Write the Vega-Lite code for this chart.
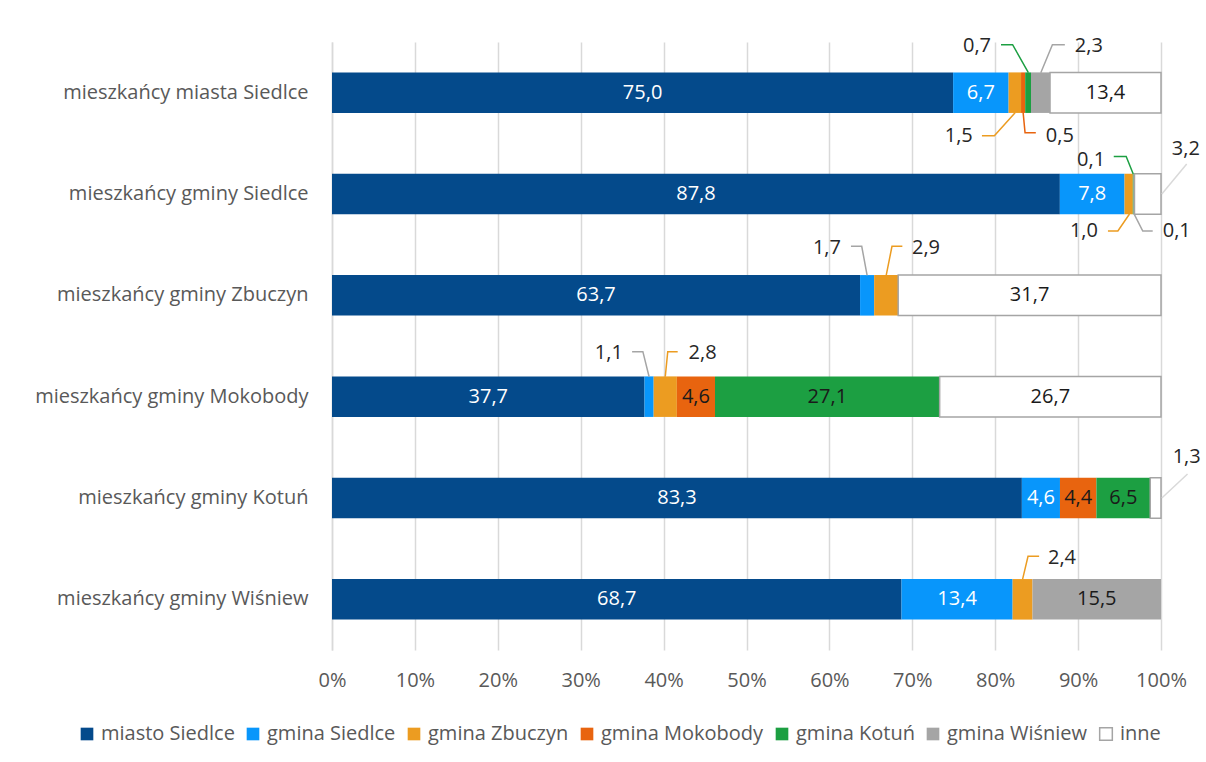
{
  "$schema": "https://vega.github.io/schema/vega-lite/v6.json",
  "width": 829,
  "height": 608,
  "autosize": "none",
  "padding": {"left": 332, "top": 42, "right": 45, "bottom": 112},
  "background": "white",
  "config": {
    "locale": {"number": {"decimal": ",", "thousands": " ", "grouping": [3], "currency": ["", " zł"]}},
    "font": "Open Sans",
    "view": {"stroke": null},
    "axis": {"labelFont": "Open Sans", "labelFontSize": 20, "labelColor": "#595959", "ticks": false, "title": null, "labelLimit": 500}
  },
  "datasets": {
    "bars": [
      {"cat": "mieszkańcy miasta Siedlce", "series": "miasto Siedlce", "value": 75.0},
      {"cat": "mieszkańcy miasta Siedlce", "series": "gmina Siedlce", "value": 6.7},
      {"cat": "mieszkańcy miasta Siedlce", "series": "gmina Zbuczyn", "value": 1.5},
      {"cat": "mieszkańcy miasta Siedlce", "series": "gmina Mokobody", "value": 0.5},
      {"cat": "mieszkańcy miasta Siedlce", "series": "gmina Kotuń", "value": 0.7},
      {"cat": "mieszkańcy miasta Siedlce", "series": "gmina Wiśniew", "value": 2.3},
      {"cat": "mieszkańcy miasta Siedlce", "series": "inne", "value": 13.4},
      {"cat": "mieszkańcy gminy Siedlce", "series": "miasto Siedlce", "value": 87.8},
      {"cat": "mieszkańcy gminy Siedlce", "series": "gmina Siedlce", "value": 7.8},
      {"cat": "mieszkańcy gminy Siedlce", "series": "gmina Zbuczyn", "value": 1.0},
      {"cat": "mieszkańcy gminy Siedlce", "series": "gmina Kotuń", "value": 0.1},
      {"cat": "mieszkańcy gminy Siedlce", "series": "gmina Wiśniew", "value": 0.1},
      {"cat": "mieszkańcy gminy Siedlce", "series": "inne", "value": 3.2},
      {"cat": "mieszkańcy gminy Zbuczyn", "series": "miasto Siedlce", "value": 63.7},
      {"cat": "mieszkańcy gminy Zbuczyn", "series": "gmina Siedlce", "value": 1.7},
      {"cat": "mieszkańcy gminy Zbuczyn", "series": "gmina Zbuczyn", "value": 2.9},
      {"cat": "mieszkańcy gminy Zbuczyn", "series": "inne", "value": 31.7},
      {"cat": "mieszkańcy gminy Mokobody", "series": "miasto Siedlce", "value": 37.7},
      {"cat": "mieszkańcy gminy Mokobody", "series": "gmina Siedlce", "value": 1.1},
      {"cat": "mieszkańcy gminy Mokobody", "series": "gmina Zbuczyn", "value": 2.8},
      {"cat": "mieszkańcy gminy Mokobody", "series": "gmina Mokobody", "value": 4.6},
      {"cat": "mieszkańcy gminy Mokobody", "series": "gmina Kotuń", "value": 27.1},
      {"cat": "mieszkańcy gminy Mokobody", "series": "inne", "value": 26.7},
      {"cat": "mieszkańcy gminy Kotuń", "series": "miasto Siedlce", "value": 83.3},
      {"cat": "mieszkańcy gminy Kotuń", "series": "gmina Siedlce", "value": 4.6},
      {"cat": "mieszkańcy gminy Kotuń", "series": "gmina Mokobody", "value": 4.4},
      {"cat": "mieszkańcy gminy Kotuń", "series": "gmina Kotuń", "value": 6.5},
      {"cat": "mieszkańcy gminy Kotuń", "series": "inne", "value": 1.3},
      {"cat": "mieszkańcy gminy Wiśniew", "series": "miasto Siedlce", "value": 68.7},
      {"cat": "mieszkańcy gminy Wiśniew", "series": "gmina Siedlce", "value": 13.4},
      {"cat": "mieszkańcy gminy Wiśniew", "series": "gmina Zbuczyn", "value": 2.4},
      {"cat": "mieszkańcy gminy Wiśniew", "series": "gmina Wiśniew", "value": 15.5}
    ],
    "callouts": [
      {"id": "a1", "series": "gmina Kotuń", "value": 0.7, "tx": 0.778, "ty": -0.464},
      {"id": "a2", "series": "gmina Wiśniew", "value": 2.3, "tx": 0.913, "ty": -0.464},
      {"id": "a3", "series": "gmina Zbuczyn", "value": 1.5, "tx": 0.756, "ty": 0.424},
      {"id": "a4", "series": "gmina Mokobody", "value": 0.5, "tx": 0.878, "ty": 0.424},
      {"id": "b1", "series": "gmina Kotuń", "value": 0.1, "tx": 0.9156, "ty": 0.664},
      {"id": "b2", "series": "inne", "value": 3.2, "tx": 1.030, "ty": 0.556},
      {"id": "b3", "series": "gmina Zbuczyn", "value": 1.0, "tx": 0.907, "ty": 1.365},
      {"id": "b4", "series": "gmina Wiśniew", "value": 0.1, "tx": 1.019, "ty": 1.365},
      {"id": "c1", "series": "gmina Siedlce", "value": 1.7, "tx": 0.597, "ty": 1.536},
      {"id": "c2", "series": "gmina Zbuczyn", "value": 2.9, "tx": 0.7165, "ty": 1.536},
      {"id": "d1", "series": "gmina Siedlce", "value": 1.1, "tx": 0.334, "ty": 2.566},
      {"id": "d2", "series": "gmina Zbuczyn", "value": 2.8, "tx": 0.447, "ty": 2.566},
      {"id": "e1", "series": "inne", "value": 1.3, "tx": 1.031, "ty": 3.595},
      {"id": "f1", "series": "gmina Zbuczyn", "value": 2.4, "tx": 0.8806, "ty": 4.595}
    ],
    "leaders": [
      {"id": "a1", "series": "gmina Kotuń", "p": 1, "lx": 0.807, "ly": -0.474},
      {"id": "a1", "series": "gmina Kotuń", "p": 2, "lx": 0.821, "ly": -0.474},
      {"id": "a1", "series": "gmina Kotuń", "p": 3, "lx": 0.840, "ly": -0.197},
      {"id": "a2", "series": "gmina Wiśniew", "p": 1, "lx": 0.884, "ly": -0.474},
      {"id": "a2", "series": "gmina Wiśniew", "p": 2, "lx": 0.869, "ly": -0.474},
      {"id": "a2", "series": "gmina Wiśniew", "p": 3, "lx": 0.855, "ly": -0.197},
      {"id": "a3", "series": "gmina Zbuczyn", "p": 1, "lx": 0.784, "ly": 0.424},
      {"id": "a3", "series": "gmina Zbuczyn", "p": 2, "lx": 0.799, "ly": 0.424},
      {"id": "a3", "series": "gmina Zbuczyn", "p": 3, "lx": 0.824, "ly": 0.197},
      {"id": "a4", "series": "gmina Mokobody", "p": 1, "lx": 0.849, "ly": 0.395},
      {"id": "a4", "series": "gmina Mokobody", "p": 2, "lx": 0.836, "ly": 0.395},
      {"id": "a4", "series": "gmina Mokobody", "p": 3, "lx": 0.8337, "ly": 0.197},
      {"id": "b1", "series": "gmina Kotuń", "p": 1, "lx": 0.943, "ly": 0.63},
      {"id": "b1", "series": "gmina Kotuń", "p": 2, "lx": 0.958, "ly": 0.63},
      {"id": "b1", "series": "gmina Kotuń", "p": 3, "lx": 0.9665, "ly": 0.803},
      {"id": "b2", "series": "inne", "p": 1, "lx": 1.031, "ly": 0.704},
      {"id": "b2", "series": "inne", "p": 2, "lx": 1.001, "ly": 1.0},
      {"id": "b3", "series": "gmina Zbuczyn", "p": 1, "lx": 0.936, "ly": 1.365},
      {"id": "b3", "series": "gmina Zbuczyn", "p": 2, "lx": 0.948, "ly": 1.365},
      {"id": "b3", "series": "gmina Zbuczyn", "p": 3, "lx": 0.962, "ly": 1.197},
      {"id": "b4", "series": "gmina Wiśniew", "p": 1, "lx": 0.990, "ly": 1.365},
      {"id": "b4", "series": "gmina Wiśniew", "p": 2, "lx": 0.978, "ly": 1.365},
      {"id": "b4", "series": "gmina Wiśniew", "p": 3, "lx": 0.9675, "ly": 1.197},
      {"id": "c1", "series": "gmina Siedlce", "p": 1, "lx": 0.626, "ly": 1.516},
      {"id": "c1", "series": "gmina Siedlce", "p": 2, "lx": 0.639, "ly": 1.516},
      {"id": "c1", "series": "gmina Siedlce", "p": 3, "lx": 0.6455, "ly": 1.803},
      {"id": "c2", "series": "gmina Zbuczyn", "p": 1, "lx": 0.688, "ly": 1.516},
      {"id": "c2", "series": "gmina Zbuczyn", "p": 2, "lx": 0.6755, "ly": 1.516},
      {"id": "c2", "series": "gmina Zbuczyn", "p": 3, "lx": 0.6685, "ly": 1.803},
      {"id": "d1", "series": "gmina Siedlce", "p": 1, "lx": 0.362, "ly": 2.556},
      {"id": "d1", "series": "gmina Siedlce", "p": 2, "lx": 0.375, "ly": 2.556},
      {"id": "d1", "series": "gmina Siedlce", "p": 3, "lx": 0.3825, "ly": 2.803},
      {"id": "d2", "series": "gmina Zbuczyn", "p": 1, "lx": 0.417, "ly": 2.556},
      {"id": "d2", "series": "gmina Zbuczyn", "p": 2, "lx": 0.405, "ly": 2.556},
      {"id": "d2", "series": "gmina Zbuczyn", "p": 3, "lx": 0.402, "ly": 2.803},
      {"id": "e1", "series": "inne", "p": 1, "lx": 1.032, "ly": 3.763},
      {"id": "e1", "series": "inne", "p": 2, "lx": 1.001, "ly": 4.0},
      {"id": "f1", "series": "gmina Zbuczyn", "p": 1, "lx": 0.853, "ly": 4.575},
      {"id": "f1", "series": "gmina Zbuczyn", "p": 2, "lx": 0.8396, "ly": 4.575},
      {"id": "f1", "series": "gmina Zbuczyn", "p": 3, "lx": 0.833, "ly": 4.803}
    ]
  },
  "resolve": {"scale": {"y": "independent"}},
  "layer": [
    {
      "data": {"name": "bars"},
      "transform": [
        {"calculate": "indexof(['miasto Siedlce','gmina Siedlce','gmina Zbuczyn','gmina Mokobody','gmina Kotuń','gmina Wiśniew','inne'], datum.series)", "as": "idx"}
      ],
      "mark": {"type": "bar", "strokeWidth": 1.5},
      "encoding": {
        "y": {
          "field": "cat", "type": "nominal", "sort": null,
          "scale": {"paddingInner": 0.6, "paddingOuter": 0.3},
          "axis": {"domainColor": "#d9d9d9", "domainWidth": 1.5, "labelPadding": 24, "grid": false}
        },
        "x": {
          "field": "value", "type": "quantitative", "stack": "normalize",
          "scale": {"domain": [0, 1], "nice": false},
          "axis": {"format": "%", "values": [0, 0.1, 0.2, 0.3, 0.4, 0.5, 0.6, 0.7, 0.8, 0.9, 1], "domain": false, "grid": true, "gridColor": "#d9d9d9", "gridWidth": 1.5, "labelPadding": 20, "labelFlush": false}
        },
        "color": {
          "field": "series", "type": "nominal",
          "scale": {
            "domain": ["miasto Siedlce", "gmina Siedlce", "gmina Zbuczyn", "gmina Mokobody", "gmina Kotuń", "gmina Wiśniew", "inne"],
            "range": ["#044a8b", "#0896fb", "#ec9c21", "#e8640f", "#1c9f42", "#a5a5a5", "#ffffff"]
          },
          "legend": {
            "title": null, "orient": "none", "direction": "horizontal",
            "legendX": -255, "legendY": 682,
            "symbolType": "square", "symbolSize": 160, "symbolStrokeWidth": 1.5,
            "symbolStrokeColor": {"expr": "datum.value === 'inne' ? '#a5a5a5' : 'transparent'"},
            "labelFont": "Open Sans", "labelFontSize": 20, "labelColor": "#595959", "labelLimit": 400,
            "labelOffset": 4, "columnPadding": 8
          }
        },
        "stroke": {
          "condition": {"test": "datum.series === 'inne'", "value": "#a5a5a5"},
          "value": null
        },
        "order": {"field": "idx", "type": "quantitative"}
      }
    },
    {
      "data": {"name": "bars"},
      "transform": [
        {"calculate": "indexof(['miasto Siedlce','gmina Siedlce','gmina Zbuczyn','gmina Mokobody','gmina Kotuń','gmina Wiśniew','inne'], datum.series)", "as": "idx"},
        {"stack": "value", "groupby": ["cat"], "sort": [{"field": "idx", "order": "ascending"}], "offset": "normalize", "as": ["s0", "s1"]},
        {"calculate": "(datum.s0 + datum.s1) / 2", "as": "mid"},
        {"filter": "datum.value >= 4"}
      ],
      "mark": {"type": "text", "font": "Open Sans", "fontSize": 20, "baseline": "middle", "align": "center"},
      "encoding": {
        "y": {"field": "cat", "type": "nominal", "sort": null, "scale": {"paddingInner": 0.6, "paddingOuter": 0.3}, "axis": null},
        "x": {"field": "mid", "type": "quantitative", "scale": {"domain": [0, 1], "nice": false}},
        "text": {"field": "value", "type": "quantitative", "format": ".1f"},
        "color": {
          "condition": {"test": "datum.series === 'miasto Siedlce' || datum.series === 'gmina Siedlce'", "value": "#ffffff"},
          "value": "#1a1a1a"
        }
      }
    },
    {
      "data": {"name": "leaders"},
      "mark": {"type": "line", "strokeWidth": 1.5, "interpolate": "linear"},
      "encoding": {
        "x": {"field": "lx", "type": "quantitative", "scale": {"domain": [0, 1], "nice": false}},
        "y": {"field": "ly", "type": "quantitative", "scale": {"domain": [-0.5, 5.5], "reverse": true, "nice": false, "zero": false}, "axis": null},
        "detail": {"field": "id"},
        "order": {"field": "p", "type": "quantitative"},
        "stroke": {
          "field": "series", "type": "nominal",
          "scale": {
            "domain": ["gmina Siedlce", "gmina Zbuczyn", "gmina Mokobody", "gmina Kotuń", "gmina Wiśniew", "inne"],
            "range": ["#a5a5a5", "#ec9c21", "#e8640f", "#1c9f42", "#a5a5a5", "#d9d9d9"]
          },
          "legend": null
        }
      }
    },
    {
      "data": {"name": "callouts"},
      "mark": {"type": "text", "font": "Open Sans", "fontSize": 20, "baseline": "middle", "align": "center", "color": "#262626"},
      "encoding": {
        "x": {"field": "tx", "type": "quantitative", "scale": {"domain": [0, 1], "nice": false}},
        "y": {"field": "ty", "type": "quantitative", "scale": {"domain": [-0.5, 5.5], "reverse": true, "nice": false, "zero": false}, "axis": null},
        "text": {"field": "value", "type": "quantitative", "format": ".1f"}
      }
    }
  ]
}
